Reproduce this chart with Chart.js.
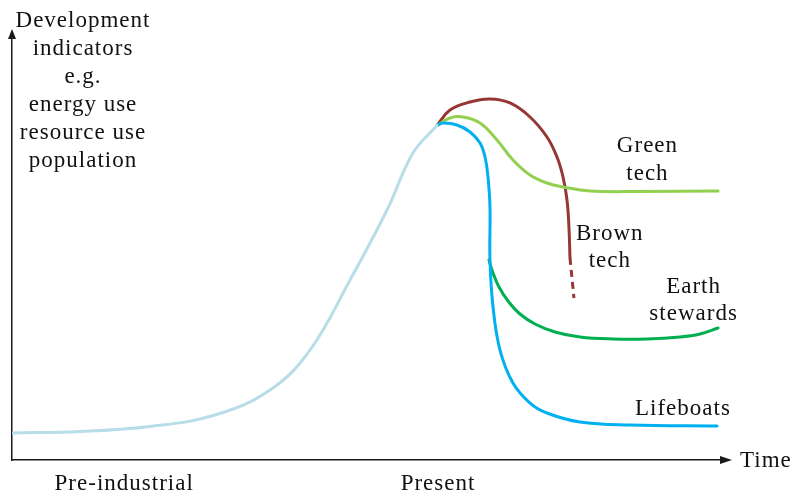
<!DOCTYPE html>
<html>
<head>
<meta charset="utf-8">
<script src="https://cdn.jsdelivr.net/npm/chart.js@4/dist/chart.umd.min.js"></script>
<style>
  html, body { margin: 0; padding: 0; background: #fff; overflow: hidden; }
  #wrap { width: 796px; height: 495px; position: relative; }
</style>
</head>
<body>
<div id="wrap"><canvas id="c" width="796" height="495"></canvas></div>
<script>
// ---- Data (time units 0-100, indicator units 0-100) ----
const xTickValues = [15.8, 60.0];
const xTickLabels = ['Pre-industrial', 'Present'];

const historyX = [0, 9.58, 19.44, 28.59, 36.34, 41.97, 47.61, 52.82, 56.48, 59.86];
const historyY = [6.37, 6.72, 7.90, 10.61, 16.51, 25.94, 42.45, 58.96, 72.41, 78.9];

const lifeboatsX = [59.86, 60.70, 62.68, 64.51, 65.92, 66.62, 67.04, 67.32, 67.32, 67.75, 68.73, 70.56, 72.96, 75.35, 80.00, 87.04, 99.30];
const lifeboatsY = [78.9, 79.48, 79.01, 77.36, 74.76, 71.46, 66.75, 59.67, 47.17, 36.08, 25.94, 18.16, 13.44, 11.08, 8.96, 8.25, 8.02];

const stewardsX = [67.18, 67.75, 68.59, 69.86, 71.55, 73.66, 76.48, 80.00, 84.65, 89.44, 94.08, 96.90, 99.44];
const stewardsY = [47.17, 44.10, 40.80, 37.50, 34.43, 32.08, 30.19, 29.01, 28.54, 28.54, 29.01, 29.72, 31.13];

const greenTechX = [59.86, 61.69, 63.52, 65.92, 68.31, 70.56, 72.96, 75.35, 77.61, 81.41, 88.45, 99.44];
const greenTechY = [78.9, 80.66, 80.90, 79.48, 75.47, 70.75, 67.22, 65.33, 64.39, 63.44, 63.33, 63.44];

const brownTechX = [59.86, 61.69, 64.51, 67.32, 70.14, 72.96, 75.35, 76.76, 77.61, 78.17, 78.45, 78.59];
const brownTechY = [78.9, 82.55, 84.43, 85.14, 84.20, 80.90, 76.18, 71.46, 66.75, 61.32, 54.72, 47.64];

const brownTailX = [78.59, 78.87, 79.15];
const brownTailY = [47.64, 42.92, 38.21];

const yAxisTitle = ['Development', 'indicators', 'e.g.', 'energy use', 'resource use', 'population'];
const seriesLabels = [
  { lines: ['Green', 'tech'], x: 89.5, y: 72.6 },
  { lines: ['Brown', 'tech'], x: 84.2, y: 51.9 },
  { lines: ['Earth', 'stewards'], x: 96.0, y: 39.4 },
  { lines: ['Lifeboats'], x: 94.5, y: 10.6 }
];

function pts(xs, ys) { return xs.map((x, i) => ({ x: x, y: ys[i] })); }

const FONT = '"Liberation Serif", "Times New Roman", serif';

const line = (data, color, extra) => Object.assign({
  data: data, borderColor: color, borderWidth: 3, pointRadius: 0,
  fill: false, tension: 0.4, borderCapStyle: 'round',
  borderJoinStyle: 'round'
}, extra || {});

const textPlugin = {
  id: 'textPlugin',
  beforeDraw(chart) {
    chart.ctx.letterSpacing = '1px';
  },
  afterDraw(chart) {
    const ctx = chart.ctx;
    const xs = chart.scales.x, ys = chart.scales.y;
    const ca = chart.chartArea;
    ctx.save();
    ctx.letterSpacing = '1px';
    // arrowheads
    ctx.fillStyle = '#1a1a1a';
    ctx.beginPath();
    ctx.moveTo(ca.right + 10, ca.bottom);
    ctx.lineTo(ca.right - 2, ca.bottom - 4);
    ctx.lineTo(ca.right - 2, ca.bottom + 4);
    ctx.closePath();
    ctx.fill();
    ctx.beginPath();
    ctx.moveTo(ca.left, ca.top - 7);
    ctx.lineTo(ca.left - 4, ca.top + 3);
    ctx.lineTo(ca.left + 4, ca.top + 3);
    ctx.closePath();
    ctx.fill();
    // texts
    ctx.fillStyle = '#111';
    ctx.font = '23px ' + FONT;
    ctx.textBaseline = 'alphabetic';
    ctx.textAlign = 'left';
    ctx.fillText('Time', ca.right + 18, ca.bottom + 7);
    ctx.textAlign = 'center';
    yAxisTitle.forEach((t, i) => ctx.fillText(t, 83, 27 + i * 28));
    seriesLabels.forEach(l => {
      const px = xs.getPixelForValue(l.x);
      const py = ys.getPixelForValue(l.y);
      l.lines.forEach((t, i) => ctx.fillText(t, px, py + i * 27.5));
    });
    ctx.restore();
  }
};

new Chart(document.getElementById('c'), {
  type: 'line',
  data: {
    datasets: [
      line(pts(historyX, historyY), '#B7DDE8'),
      line(pts(lifeboatsX, lifeboatsY), '#00B0F0'),
      line(pts(stewardsX, stewardsY), '#00B050'),
      line(pts(greenTechX, greenTechY), '#92D050'),
      line(pts(brownTechX, brownTechY), '#953735'),
      line(pts(brownTailX, brownTailY), '#953735', { borderDash: [7, 5], borderCapStyle: 'butt', tension: 0 })
    ]
  },
  options: {
    responsive: false,
    animation: false,
    events: [],
    layout: { padding: { left: 12, right: 74, top: 36, bottom: 0 } },
    plugins: { legend: { display: false }, tooltip: { enabled: false } },
    scales: {
      x: {
        type: 'linear', min: 0, max: 100,
        grid: { display: false, drawTicks: false },
        border: { display: true, color: '#1a1a1a', width: 1.5 },
        afterBuildTicks: (s) => { s.ticks = xTickValues.map(v => ({ value: v })); },
        afterFit: (s) => { s.height = 35; },
        ticks: {
          padding: 10, color: '#111', maxRotation: 0, autoSkip: false,
          font: { family: FONT, size: 23 },
          callback: (v, i) => xTickLabels[i]
        }
      },
      y: {
        type: 'linear', min: 0, max: 100,
        grid: { display: false, drawTicks: false },
        border: { display: true, color: '#1a1a1a', width: 1.5 },
        ticks: { display: false },
        afterFit: (s) => { s.width = 0; }
      }
    }
  },
  plugins: [textPlugin]
});
</script>
</body>
</html>
